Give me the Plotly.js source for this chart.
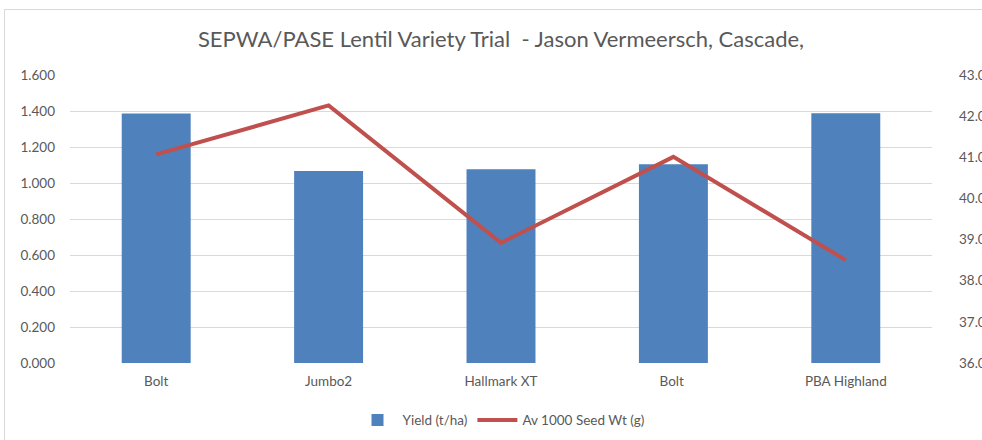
<!DOCTYPE html>
<html><head><meta charset="utf-8">
<script src="https://cdn.plot.ly/plotly-3.0.1.min.js"></script>
<style>
html,body{margin:0;padding:0;background:#fff;}
#frame{position:absolute;left:4px;top:9px;width:1000px;height:460px;border:1px solid #d9d9d9;box-sizing:border-box;}
#chart{position:absolute;left:0;top:0;width:982px;height:440px;}
</style></head>
<body>
<div id="frame"></div>
<div id="chart"></div>
<script>
const categories = ["Bolt", "Jumbo2", "Hallmark XT", "Bolt ", "PBA Highland"];
const yieldVals = [1.386, 1.067, 1.076, 1.104, 1.387];
const seedWt = [41.07, 42.26, 38.92, 41.01, 38.50];
const leftTicks = [0, 0.2, 0.4, 0.6, 0.8, 1.0, 1.2, 1.4, 1.6];
const rightTicks = [36, 37, 38, 39, 40, 41, 42, 43];

const font = "Lato, 'Open Sans', sans-serif";
const traces = [
  {type:'bar', name:'Yield (t/ha)', x:categories, y:yieldVals, marker:{color:'#4f81bd'}, width:0.4},
  {type:'scatter', mode:'lines', name:'Av 1000 Seed Wt (g)', x:categories, y:seedWt, yaxis:'y2', line:{color:'#c0504d', width:4}}
];
const layout = {
  width:982, height:440,
  paper_bgcolor:'rgba(0,0,0,0)', plot_bgcolor:'rgba(0,0,0,0)',
  margin:{l:70, r:50, t:75, b:77, autoexpand:false},
  font:{family:font, size:13.5, color:'#595959'},
  title:{text:'SEPWA/PASE Lentil Variety Trial  - Jason Vermeersch, Cascade,', x:0.5, xref:'paper', y:0.91, yanchor:'middle', font:{family:font, size:22, color:'#595959'}},
  xaxis:{type:'category', showgrid:false, showline:false, zeroline:false, ticks:'', ticklabelstandoff:8},
  yaxis:{range:[0,1.6], tickvals:leftTicks, tickformat:'.3f', gridcolor:'#d9d9d9', gridwidth:1, zeroline:false, showline:false, ticks:'', ticklabelstandoff:14},
  yaxis2:{range:[36,43], tickvals:rightTicks, tickformat:'.2f', overlaying:'y', side:'right', showgrid:false, zeroline:false, showline:false, ticks:'', ticklabelstandoff:13, ticklabelshift:0},
  legend:{orientation:'h', x:0.5, xanchor:'center', yref:'container', y:0.045, yanchor:'middle', font:{size:13.5}, itemwidth:40},
  showlegend:true
};
Plotly.newPlot('chart', traces, layout, {displayModeBar:false, staticPlot:true}).then(function(gd){
  // nudge right-axis labels to match the reference spacing
  document.querySelectorAll('.y2tick text').forEach(function(t){
    const x = parseFloat(t.getAttribute('x')||0);
    t.setAttribute('x', x + 13);
  });
});
</script>
</body></html>
